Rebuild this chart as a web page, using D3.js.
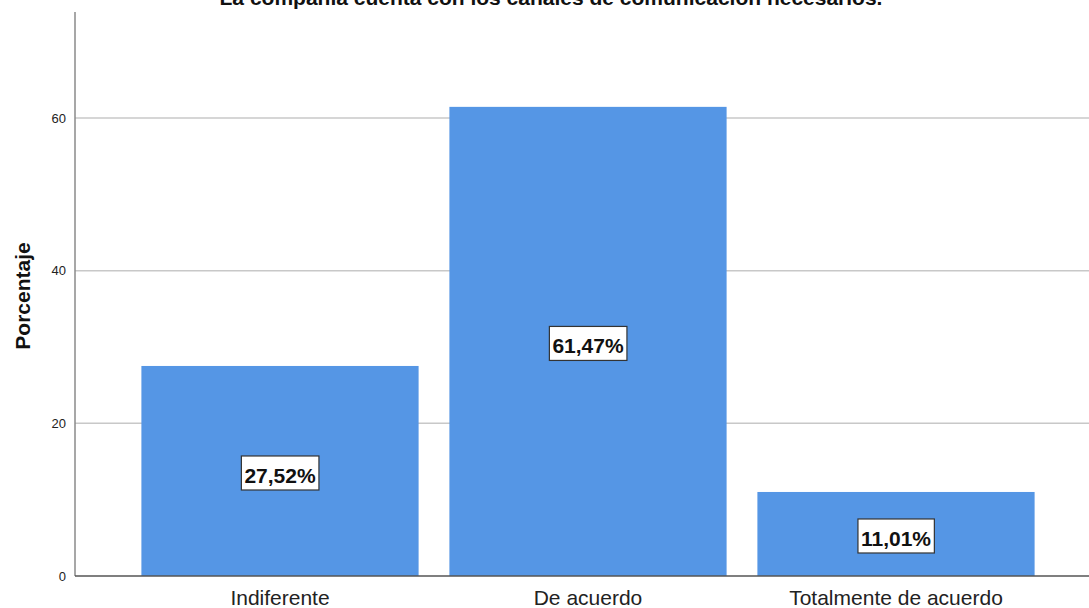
<!DOCTYPE html>
<html><head><meta charset="utf-8">
<script src="https://cdn.jsdelivr.net/npm/d3@7"></script>
<style>body{margin:0;background:#fff;} svg{display:block;font-family:"Liberation Sans",Arial,sans-serif;}</style>
</head><body>
<svg id="c" width="1089" height="608"></svg>
<script>
const categories = ["Indiferente", "De acuerdo", "Totalmente de acuerdo"];
const values = [27.52, 61.47, 11.01];
const valueLabels = ["27,52%", "61,47%", "11,01%"];
const yTicks = [0, 20, 40, 60];
const title = "La compañía cuenta con los canales de comunicación necesarios.";
const yTitle = "Porcentaje";

(function () {
const svg = d3.select("#c");
const pLeft = 75, pRight = 1089, pTop = 12, pBottom = 576;
const x = d3.scaleBand().domain(categories).range([126, 1050]).paddingInner(0.1).paddingOuter(0.05);
const y = d3.scaleLinear().domain([0, 73.9]).range([pBottom, pTop]);

// gridlines
svg.append("g").selectAll("line").data(yTicks.filter(d => d > 0)).join("line")
  .attr("x1", pLeft).attr("x2", pRight).attr("y1", d => y(d)).attr("y2", d => y(d))
  .attr("stroke", "#c8c8c8").attr("stroke-width", 1.5);

// bars
svg.append("g").selectAll("rect").data(values).join("rect")
  .attr("x", (d, i) => x(categories[i])).attr("width", x.bandwidth())
  .attr("y", d => y(d)).attr("height", d => pBottom - y(d))
  .attr("fill", "#5596e5");

// axes lines
svg.append("line").attr("x1", pLeft).attr("x2", pLeft).attr("y1", pTop).attr("y2", pBottom)
  .attr("stroke", "#8a8a8a").attr("stroke-width", 1.5);
svg.append("line").attr("x1", pLeft).attr("x2", pRight).attr("y1", pBottom).attr("y2", pBottom)
  .attr("stroke", "#555").attr("stroke-width", 1.5);

// y tick labels
svg.append("g").selectAll("text").data(yTicks).join("text")
  .attr("x", 66).attr("y", d => y(d)).attr("dy", "0.35em")
  .attr("text-anchor", "end").attr("font-size", 13).attr("fill", "#222").text(d => d);

// x labels
svg.append("g").selectAll("text").data(categories).join("text")
  .attr("x", d => x(d) + x.bandwidth() / 2).attr("y", 605)
  .attr("text-anchor", "middle").attr("font-size", 21).attr("fill", "#222").text(d => d);

// value labels with boxes
const lg = svg.append("g").selectAll("g").data(values).join("g")
  .attr("transform", (d, i) => `translate(${x(categories[i]) + x.bandwidth() / 2},${y(d / 2)})`);
lg.each(function (d, i) {
  const g = d3.select(this);
  const t = g.append("text").attr("text-anchor", "middle").attr("y", 12)
    .attr("font-size", 21).attr("font-weight", "bold").attr("fill", "#111").text(valueLabels[i]);
  const b = t.node().getBBox();
  g.insert("rect", "text").attr("x", b.x - 3).attr("y", -15).attr("width", b.width + 6).attr("height", 34)
    .attr("fill", "#fff").attr("stroke", "#333").attr("stroke-width", 1.2);
});

// y title
svg.append("text").attr("transform", "translate(30,296) rotate(-90)")
  .attr("text-anchor", "middle").attr("font-size", 21).attr("font-weight", "bold").attr("fill", "#111").text(yTitle);

// title (cut off at top, as in the source)
svg.append("text").attr("x", 551).attr("y", 5).attr("text-anchor", "middle")
  .attr("font-size", 21).attr("font-weight", "bold").attr("fill", "#111").text(title);
})();
</script>
</body></html>
